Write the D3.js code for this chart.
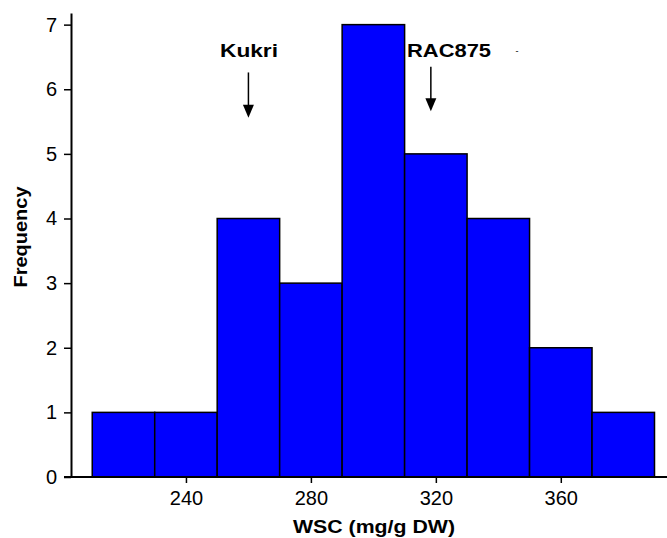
<!DOCTYPE html>
<html>
<head>
<meta charset="utf-8">
<script src="https://cdn.jsdelivr.net/npm/d3@7"></script>
<style>
  body { margin: 0; background: #fff; }
  text { font-family: Arial, "Liberation Sans", sans-serif; }
</style>
</head>
<body>
<div class="canvas"></div>
<script>
// histogram bins (mg/g DW) and counts
const binStarts = [210, 230, 250, 270, 290, 310, 330, 350, 370];
const binWidth = 20;
const counts = [1, 1, 4, 3, 7, 5, 4, 2, 1];
const xTicks = [240, 280, 320, 360];
const yTicks = [0, 1, 2, 3, 4, 5, 6, 7];

// arrows pointing at the two parents
const arrowNames = ['Kukri', 'RAC875'];
const arrowX = [260, 318.4];
const arrowTop = [6.26, 6.35];
const arrowTip = [5.56, 5.66];

const width = 667, height = 538;
const margin = { top: 13, right: 0, bottom: 61, left: 71 };

const svg = d3.select('.canvas')
  .append('svg')
  .attr('width', width)
  .attr('height', height);

const x = d3.scaleLinear().domain([203.2, 394]).range([margin.left, width - margin.right]);
const y = d3.scaleLinear().domain([0, 7.18]).range([height - margin.bottom, margin.top]);

const data = binStarts.map((s, i) => ({ x0: s, x1: s + binWidth, n: counts[i] }));

// bars
svg.append('g')
  .selectAll('rect')
  .data(data)
  .enter()
  .append('rect')
    .attr('x', d => x(d.x0))
    .attr('y', d => y(d.n))
    .attr('width', d => x(d.x1) - x(d.x0))
    .attr('height', d => y(0) - y(d.n))
    .attr('fill', '#0000ff')
    .attr('stroke', '#000')
    .attr('stroke-width', 1.5);

// axes
const xAxis = d3.axisBottom(x)
  .tickValues(xTicks)
  .tickSize(6)
  .tickPadding(8)
  .tickSizeOuter(0);

const yAxis = d3.axisLeft(y)
  .tickValues(yTicks)
  .tickSize(7)
  .tickPadding(7)
  .tickSizeOuter(0);

const xAxisGroup = svg.append('g')
  .attr('transform', `translate(0, ${y(0)})`)
  .call(xAxis);

const yAxisGroup = svg.append('g')
  .attr('transform', `translate(${margin.left}, 0)`)
  .call(yAxis);

[xAxisGroup, yAxisGroup].forEach(g => {
  g.select('.domain').attr('stroke', '#000').attr('stroke-width', 2);
  g.selectAll('.tick line').attr('stroke', '#000').attr('stroke-width', 1.5);
  g.selectAll('.tick text')
    .attr('fill', '#000')
    .style('font-size', '20px')
    .style('font-family', 'Arial, "Liberation Sans", sans-serif');
});

// x axis line runs left to the end of the y ticks
xAxisGroup.select('.domain')
  .attr('d', `M${margin.left - 7},0H${width}`);

// axis titles
svg.append('text')
  .attr('x', 374)
  .attr('y', 533)
  .attr('text-anchor', 'middle')
  .attr('textLength', 162)
  .attr('lengthAdjust', 'spacingAndGlyphs')
  .style('font-size', '19px')
  .style('font-weight', 'bold')
  .text('WSC (mg/g DW)');

svg.append('text')
  .attr('transform', 'translate(27, 237) rotate(-90)')
  .attr('text-anchor', 'middle')
  .attr('textLength', 101)
  .attr('lengthAdjust', 'spacingAndGlyphs')
  .style('font-size', '19px')
  .style('font-weight', 'bold')
  .text('Frequency');

// annotations
const labelX = [249, 407];
const labelAnchor = ['middle', 'start'];
const labelLen = [58, 84];

arrowNames.forEach((name, i) => {
  const ax = x(arrowX[i]);
  const top = y(arrowTop[i]);
  const tip = y(arrowTip[i]);

  svg.append('line')
    .attr('x1', ax).attr('x2', ax)
    .attr('y1', top).attr('y2', tip - 10)
    .attr('stroke', '#000')
    .attr('stroke-width', 1.5);

  svg.append('path')
    .attr('d', `M${ax - 5.5},${tip - 13}L${ax + 5.5},${tip - 13}L${ax},${tip}Z`)
    .attr('fill', '#000');

  svg.append('text')
    .attr('x', labelX[i])
    .attr('y', 57)
    .attr('text-anchor', labelAnchor[i])
    .attr('textLength', labelLen[i])
    .attr('lengthAdjust', 'spacingAndGlyphs')
    .style('font-size', '19px')
    .style('font-weight', 'bold')
    .text(name);
});

// stray speck to the right of RAC875
svg.append('text')
  .attr('x', 517)
  .attr('y', 54)
  .attr('text-anchor', 'middle')
  .style('font-size', '9px')
  .text('-');
</script>
</body>
</html>
